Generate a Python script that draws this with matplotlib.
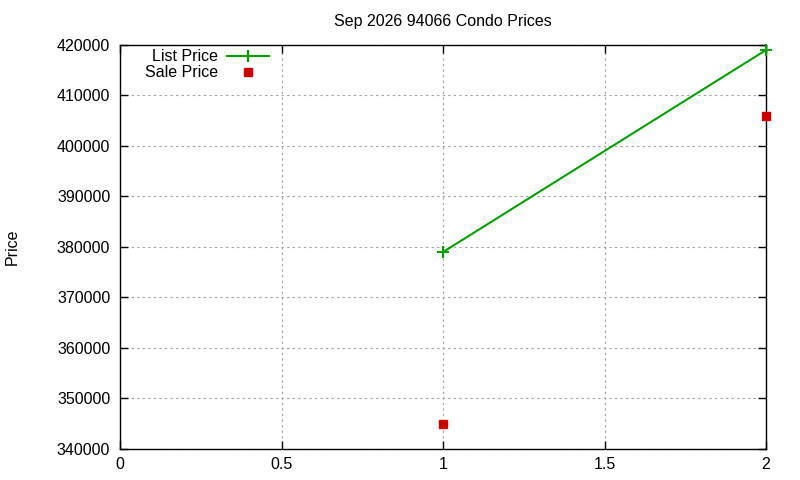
import matplotlib
matplotlib.use('Agg')
import matplotlib.pyplot as plt

plt.rcParams['font.family'] = ['Liberation Sans', 'DejaVu Sans']

# data
x_list = [1, 2]
list_price = [379000, 419000]
x_sale = [1, 2]
sale_price = [345000, 406000]

xticks = [0, 0.5, 1, 1.5, 2]
xticklabels = ['0', '0.5', '1', '1.5', '2']
yticks = list(range(340000, 420001, 10000))

fig = plt.figure(figsize=(8, 4.8), dpi=100)
ax = fig.add_axes([0.15, 0.0646, 0.8075, 0.8417])

ax.plot(x_list, list_price, color='#00a000', linewidth=1.5, marker='+',
        markersize=8, markeredgewidth=1.5, label='List Price', clip_on=False, zorder=3)
ax.plot(x_sale, sale_price, color='#cc0000', linestyle='none', marker='s',
        markersize=6, label='Sale Price', clip_on=False, zorder=3)

ax.set_xlim(0, 2)
ax.set_ylim(340000, 420000)
ax.set_xticks(xticks)
ax.set_xticklabels(xticklabels)
ax.set_yticks(yticks)
ax.tick_params(direction='in', top=True, right=True, labelsize=11.5, length=6, width=1)
ax.tick_params(axis='y', pad=7)
ax.tick_params(axis='x', pad=6)
ax.grid(True, color='#a0a0a0', linestyle=(0, (2, 3)), linewidth=0.8)
for s in ax.spines.values():
    s.set_linewidth(1)

ax.set_title('Sep 2026 94066 Condo Prices', fontsize=11.5, pad=14)
ax.set_ylabel('Price', fontsize=11.5)
ax.yaxis.set_label_coords(-0.1548, 0.5)

ax.legend(loc='upper right', frameon=False, markerfirst=False, fontsize=11.5,
          bbox_to_anchor=(272 / 800, 1 - 46 / 480), bbox_transform=fig.transFigure,
          borderaxespad=0, borderpad=0.2, handlelength=2.6, handletextpad=0.55,
          labelspacing=0.07)

plt.savefig('out.png', dpi=100)
